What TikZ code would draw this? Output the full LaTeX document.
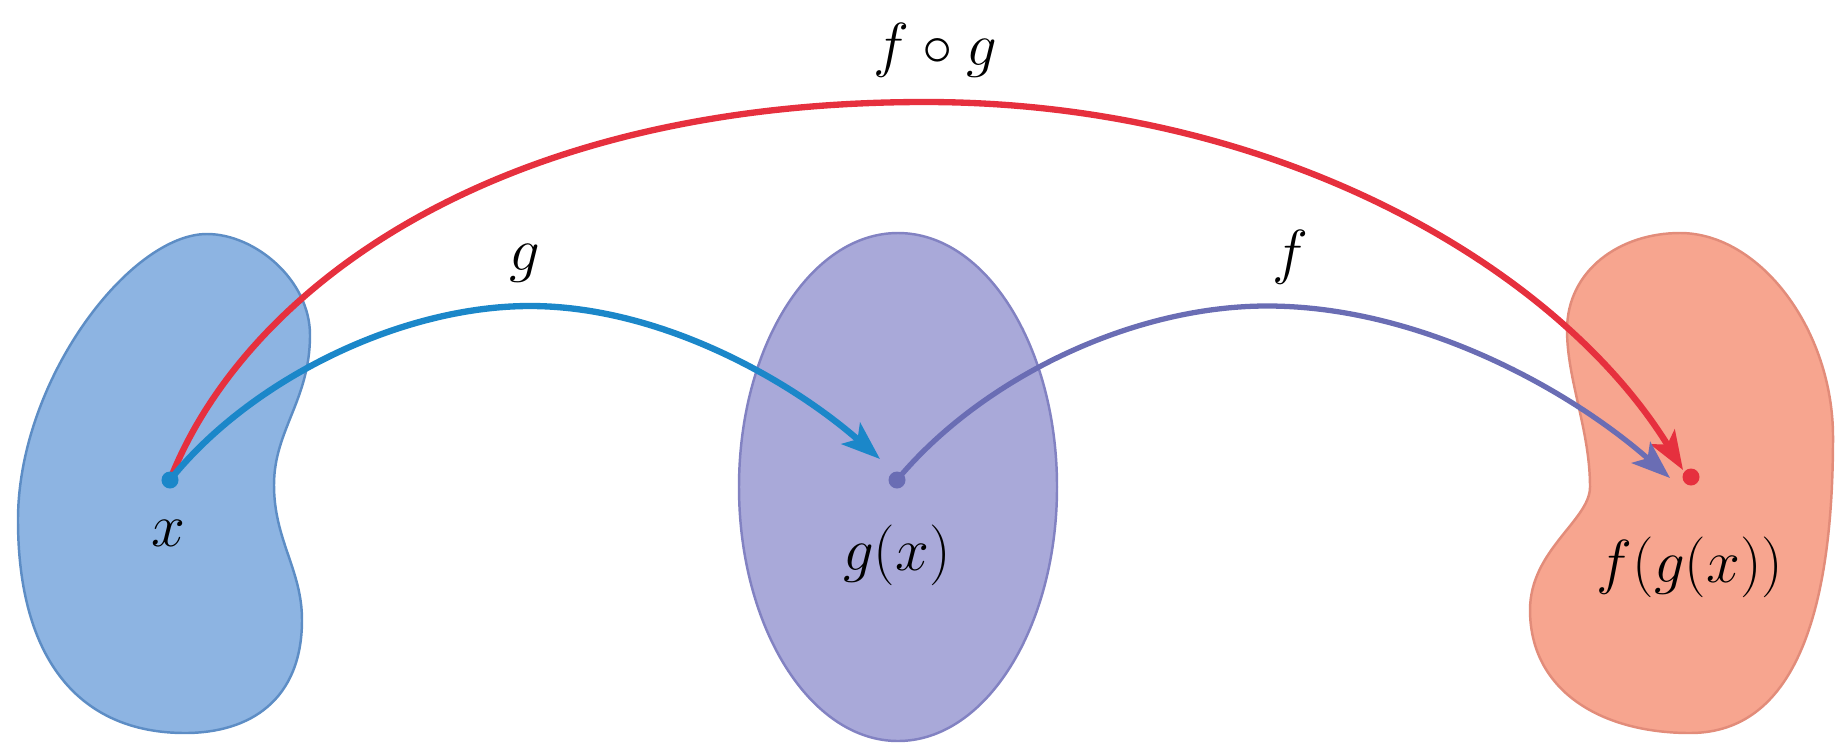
\documentclass[tikz,border=0pt]{standalone}
\usetikzlibrary{arrows.meta}
\definecolor{bluefill}{HTML}{8DB4E2}
\definecolor{blueedge}{HTML}{5D8DC5}
\definecolor{midfill}{HTML}{A9A9D9}
\definecolor{midedge}{HTML}{8282C2}
\definecolor{redfill}{HTML}{F7A58F}
\definecolor{rededge}{HTML}{E28C7A}
\definecolor{garrow}{HTML}{1B87C9}
\definecolor{farrow}{HTML}{6A6DB4}
\definecolor{fgarrow}{HTML}{E6303E}
\begin{document}
\begin{tikzpicture}[x=0.01cm,y=-0.01cm,
  blob/.style={line width=0.7pt},
  dot/.style={circle,inner sep=0pt,minimum size=0.17cm},
  lab/.style={font=\fontsize{17}{20}\selectfont,inner sep=0pt},
  arr/.style={line width=1.8pt,-{Stealth[length=11pt,width=8pt,inset=2.5pt]}}]
\useasboundingbox (0,0) rectangle (1837,742);
% sets
\draw[blob,fill=bluefill,draw=blueedge] (207,234)
  .. controls (255,234) and (310,280) .. (310,335)
  .. controls (310,400) and (274,430) .. (274,485)
  .. controls (274,540) and (302,570) .. (302,620)
  .. controls (302,700) and (250,733) .. (185,733)
  .. controls (80,733) and (18,660) .. (18,520)
  .. controls (18,380) and (130,234) .. (207,234) -- cycle;
\draw[blob,fill=midfill,draw=midedge] (898,487) ellipse [x radius=159, y radius=254];
\draw[blob,fill=redfill,draw=rededge] (1680,233)
  .. controls (1760,233) and (1833,330) .. (1833,437)
  .. controls (1833,600) and (1800,733) .. (1690,733)
  .. controls (1600,733) and (1530,690) .. (1530,610)
  .. controls (1530,550) and (1590,520) .. (1590,487)
  .. controls (1590,430) and (1567,380) .. (1567,330)
  .. controls (1567,270) and (1620,233) .. (1680,233) -- cycle;
% points
\coordinate (px) at (170,480);
\coordinate (pgx) at (897,480);
\coordinate (pfgx) at (1691,477);
\coordinate (gtip) at (880,459);
\coordinate (ftip) at (1670,478);
\coordinate (fgtip) at (1683,470);
% labels
\node[lab] (lx) at (168,533) {$x$};
\node[lab] (lgx) at (897,555) {$g(x)$};
\node[lab] (lfgx) at (1690,567) {$f(g(x))$};
\node[lab] (lg) at (525,263) {$g$};
\node[lab] (lf) at (1290,257) {$f$};
\node[lab] (lfg) at (935,50) {$f\circ g$};
% arrows
\draw[arr,draw=fgarrow] (px) .. controls (240,300) and (480,102) .. (925,102)
   .. controls (1280,102) and (1560,270) .. (fgtip);
\draw[arr,draw=garrow] (px) .. controls (250,380) and (400,306) .. (530,306)
   .. controls (660,306) and (790,380) .. (gtip);
\draw[arr,line width=1.5pt,draw=farrow] (pgx) .. controls (980,380) and (1130,306) .. (1267,306)
   .. controls (1420,306) and (1570,390) .. (ftip);
% dots
\node[dot,fill=garrow] (dx) at (px) {};
\node[dot,fill=farrow] (dgx) at (pgx) {};
\node[dot,fill=fgarrow] (dfgx) at (pfgx) {};
\end{tikzpicture}
\end{document}
